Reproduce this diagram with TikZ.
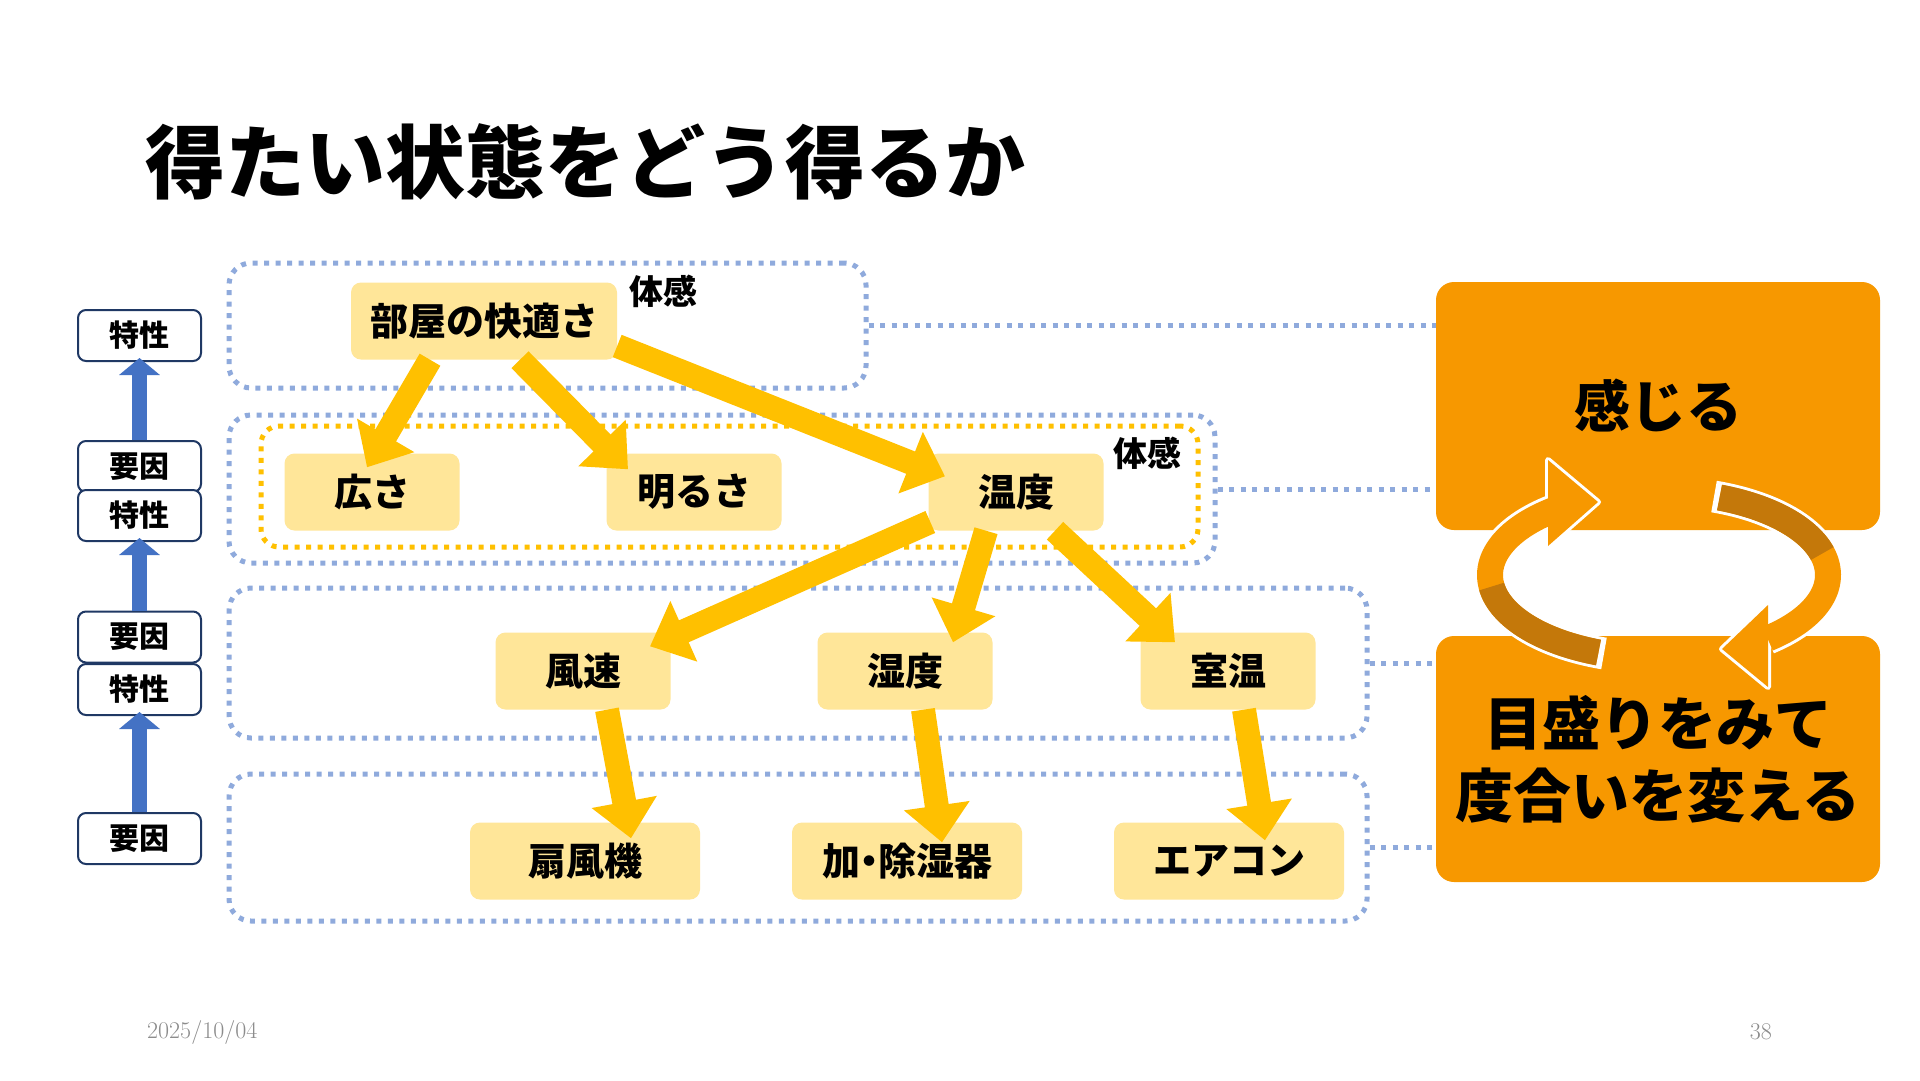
\documentclass[tikz,border=0pt]{standalone}
\usepackage{fontspec}
\newfontfamily\jp{Noto Sans CJK JP}
\usetikzlibrary{arrows.meta,calc}
\definecolor{nodefill}{HTML}{FFE699}
\definecolor{gold}{HTML}{FFC000}
\definecolor{dotblue}{HTML}{8FAADC}
\definecolor{navy}{HTML}{1F3864}
\definecolor{arrowblue}{HTML}{4472C4}
\definecolor{boxorange}{RGB}{247,152,0}
\definecolor{ribbondark}{RGB}{196,120,10}
\definecolor{footgray}{RGB}{140,140,140}
\begin{document}
\begin{tikzpicture}[x=1pt,y=-1pt,
  ynode/.style={fill=nodefill, rounded corners=10pt, minimum height=77pt, minimum width=175pt, inner sep=0pt, font=\jp\bfseries\fontsize{38}{44}\selectfont},
  lbox/.style={draw=navy, line width=2pt, fill=white, rounded corners=8pt, minimum width=123pt, minimum height=51pt, inner sep=0pt, font=\jp\bfseries\fontsize{30}{36}\selectfont},
  dbox/.style={draw=dotblue, line width=5pt, dash pattern=on 5pt off 6.5pt, rounded corners=22pt, inner sep=0pt},
  obox/.style={draw=gold, line width=5pt, dash pattern=on 5pt off 6.5pt, rounded corners=18pt, inner sep=0pt},
  dotline/.style={draw=dotblue, line width=5pt, dash pattern=on 5pt off 6.5pt},
  bigbox/.style={fill=boxorange, rounded corners=18pt, inner sep=0pt, minimum width=444pt},
  yarrow/.style={draw=gold, line width=24pt, -{Triangle[length=37pt,width=64pt]}},
  barrow/.style={draw=arrowblue, line width=15pt, -{Triangle[length=17pt,width=40pt]}},
  lbl/.style={font=\jp\bfseries\fontsize{34}{40}\selectfont, inner sep=0pt}
]
\useasboundingbox (0,0) rectangle (1920,1080);
\fill[white] (0,0) rectangle (1920,1080);

% dotted group boxes
\node[dbox, minimum width=637pt, minimum height=125pt] (box1) at (547.5,325.5) {};
\node[dbox, minimum width=986pt, minimum height=148pt] (box2) at (722,489) {};
\node[obox, minimum width=937pt, minimum height=121pt] (box2o) at (729.5,486.5) {};
\node[dbox, minimum width=1138pt, minimum height=150pt] (box3) at (798,663) {};
\node[dbox, minimum width=1138pt, minimum height=147pt] (box4) at (798,847.5) {};

% orange boxes
\node[bigbox, minimum height=248pt, font=\jp\bfseries\fontsize{56}{64}\selectfont] (feel) at (1658,406) {感じる};
\node[bigbox, minimum height=246pt, align=center, font=\jp\bfseries\fontsize{58}{72}\selectfont] (change) at (1658,759) {目盛りをみて\\度合いを変える};

% dotted connectors
\draw[dotline] (box1.east) -- (box1.east -| feel.west);
\draw[dotline] (box2.east) -- (box2.east -| feel.west);
\draw[dotline] (box3.east) -- (box3.east -| change.west);
\draw[dotline] (box4.east) -- (box4.east -| change.west);

% cycle ribbon
\draw[white, line width=32pt] plot[domain=109:232, samples=60, smooth] ({1659+169*cos(\x)},{575+83*sin(\x)});
\draw[white, fill=white, line width=6pt, line join=round] (1548,460) -- (1548,546) -- (1598,502) -- cycle;
\draw[white, line width=32pt] plot[domain=289:410, samples=60, smooth] ({1659+169*cos(\x)},{575+83*sin(\x)});
\draw[white, fill=white, line width=6pt, line join=round] (1768,605) -- (1768,687) -- (1722,649) -- cycle;
\draw[boxorange, line width=26pt] plot[domain=111:232, samples=60, smooth] ({1659+169*cos(\x)},{575+83*sin(\x)});
\draw[ribbondark, line width=26pt] plot[domain=111:172, samples=40, smooth] ({1659+169*cos(\x)},{575+83*sin(\x)});
\fill[boxorange] (1548,460) -- (1548,546) -- (1598,502) -- cycle;
\draw[boxorange, line width=26pt] plot[domain=291:410, samples=60, smooth] ({1659+169*cos(\x)},{575+83*sin(\x)});
\draw[ribbondark, line width=26pt] plot[domain=291:345, samples=40, smooth] ({1659+169*cos(\x)},{575+83*sin(\x)});
\fill[boxorange] (1768,605) -- (1768,687) -- (1722,649) -- cycle;

% yellow nodes
\node[ynode, minimum width=266pt] (room) at (484,321) {部屋の快適さ};
\node[ynode] (hiro) at (372,492) {広さ};
\node[ynode] (akaru) at (694,492) {明るさ};
\node[ynode] (ondo) at (1016,492) {温度};
\node[ynode] (fuso) at (583,671) {風速};
\node[ynode] (shitsu) at (905,671) {湿度};
\node[ynode] (shitsuon) at (1228,671) {室温};
\node[ynode, minimum width=230pt] (senpu) at (585,861) {扇風機};
\node[ynode, minimum width=230pt] (kajo) at (907,861) {加\kern-10pt・\kern-10pt除湿器};
\node[ynode, minimum width=230pt] (aircon) at (1229,861) {エアコン};

% yellow arrows
\draw[yarrow] ([xshift=-54pt]room.south) -- ([xshift=-5pt,yshift=-14pt]hiro.north);
\draw[yarrow] ([xshift=36pt]room.south) -- ([xshift=-66pt,yshift=-16pt]akaru.north);
\draw[yarrow] ([yshift=-25pt]room.east) -- ([xshift=-71pt,yshift=-23pt]ondo.north);
\draw[yarrow] ([xshift=2pt,yshift=-30pt]ondo.west) -- ([xshift=67pt,yshift=-14pt]fuso.north);
\draw[yarrow] ([xshift=-30pt]ondo.south) -- ([xshift=48pt,yshift=-10pt]shitsu.north);
\draw[yarrow] ([xshift=39pt]ondo.south) -- ([xshift=-53pt,yshift=-10pt]shitsuon.north);
\draw[yarrow] ([xshift=24pt]fuso.south) -- ([xshift=46pt,yshift=-16pt]senpu.north);
\draw[yarrow] ([xshift=18pt]shitsu.south) -- ([xshift=35pt,yshift=-20pt]kajo.north);
\draw[yarrow] ([xshift=16pt]shitsuon.south) -- ([xshift=36pt,yshift=-18pt]aircon.north);

% labels
\node[lbl] (taikan1) at (663,291) {体感};
\node[lbl] (taikan2) at (1147,453) {体感};

% left column
\node[lbox] (tok1) at (139.5,335.5) {特性};
\node[lbox] (yoin1) at (139.5,466.5) {要因};
\node[lbox] (tok2) at (139.5,515.5) {特性};
\node[lbox] (yoin2) at (139.5,637) {要因};
\node[lbox] (tok3) at (139.5,689.5) {特性};
\node[lbox] (yoin3) at (139.5,838.5) {要因};
\draw[barrow] (yoin1.north) -- ([yshift=4pt]tok1.south);
\draw[barrow] (yoin2.north) -- ([yshift=4pt]tok2.south);
\draw[barrow] (yoin3.north) -- ([yshift=4pt]tok3.south);

% title and footer
\node[anchor=west, inner sep=0pt, font=\jp\bfseries\fontsize{80}{96}\selectfont] (title) at (145,162) {得たい状態をどう得るか};
\node[anchor=west, inner sep=0pt, text=footgray, font=\fontsize{24}{28}\selectfont] (date) at (147,1032) {2025/10/04};
\node[anchor=east, inner sep=0pt, text=footgray, font=\fontsize{24}{28}\selectfont] (pagenum) at (1772,1032) {38};
\end{tikzpicture}
\end{document}
